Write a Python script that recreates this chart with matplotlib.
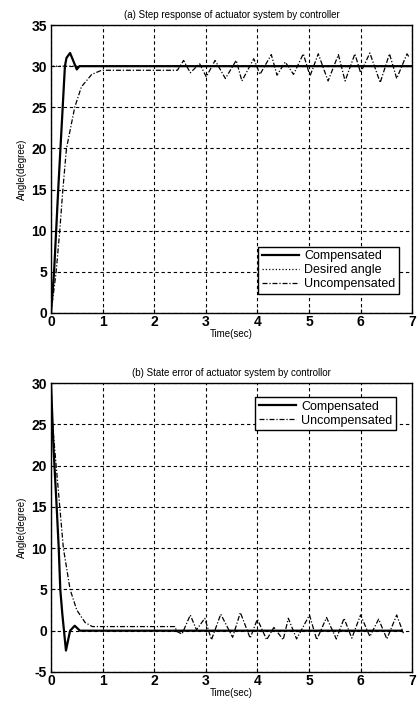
import matplotlib
matplotlib.use("Agg")
import numpy as np
from matplotlib import pyplot as plt

plt.rcParams['font.family'] = ['Liberation Sans', 'DejaVu Sans']
plt.rcParams['axes.unicode_minus'] = False

# ---- (a) step response ----
t_comp_a = [0, 0.06, 0.14, 0.27, 0.30, 0.37, 0.50, 0.55, 7.0]
y_comp_a = [0, 5, 15, 30, 31.0, 31.6, 29.6, 30, 30]

t_des = [0, 0.001, 7.0]
y_des = [0, 30, 30]

t_unc_a = [0, 0.10, 0.17, 0.23, 0.30, 0.46, 0.59, 0.79, 0.98, 2.45,
           2.57, 2.70, 2.88, 3.01, 3.18, 3.38, 3.59, 3.70, 3.93, 4.05,
           4.27, 4.38, 4.54, 4.70, 4.89, 5.02, 5.18, 5.37, 5.57, 5.70,
           5.89, 6.00, 6.18, 6.38, 6.56, 6.70, 6.90, 6.95]
y_unc_a = [0, 5, 10, 15, 20, 25, 27.5, 29, 29.5, 29.5,
           30.7, 29.2, 30.3, 28.7, 30.7, 28.5, 30.7, 28.2, 30.9, 29.0,
           31.4, 28.9, 30.5, 29.0, 31.5, 28.8, 31.5, 28.2, 31.4, 28.2,
           31.5, 29.2, 31.6, 28.0, 31.5, 28.5, 31.5, 31.0]

# ---- (b) state error ----
t_comp_b = [0, 0.05, 0.11, 0.15, 0.18, 0.22, 0.29, 0.37, 0.46, 0.56, 6.8]
y_comp_b = [30, 22, 15, 10, 5, 2, -2.4, 0, 0.6, 0, 0]

t_unc_b = [0, 0.03, 0.10, 0.17, 0.24, 0.37, 0.50, 0.66, 0.80, 2.40,
           2.44, 2.54, 2.70, 2.82, 2.98, 3.11, 3.29, 3.52, 3.67, 3.86,
           4.00, 4.18, 4.32, 4.50, 4.60, 4.76, 5.01, 5.15, 5.34, 5.53,
           5.68, 5.83, 6.00, 6.18, 6.35, 6.51, 6.70, 6.83]
y_unc_b = [30, 25, 20, 15, 10, 5, 2.5, 1, 0.5, 0.5,
           -0.1, -0.4, 1.9, 0.1, 1.5, -1.1, 2.0, -0.8, 2.2, -0.9,
           1.4, -1.1, 0.4, -1.1, 1.5, -1.0, 1.9, -1.1, 1.6, -1.0,
           1.5, -0.9, 1.9, -0.7, 1.4, -1.0, 1.9, -0.3]

dashdot = (0, (4, 1.5, 1, 1.5))

fig = plt.figure(figsize=(4.19, 7.01), dpi=100)
ax1 = fig.add_axes([0.1217, 0.5535, 0.862, 0.4108])
ax2 = fig.add_axes([0.1217, 0.0414, 0.862, 0.4122])


def style(ax, ylim, yticks):
    ax.set_xlim(0, 7)
    ax.set_ylim(*ylim)
    ax.set_xticks(range(8))
    ax.set_yticks(yticks)
    ax.grid(True, color='black', linestyle=(0, (3, 2.5)), linewidth=0.8)
    ax.tick_params(direction='in', length=3, labelsize=10, pad=3)
    ax.tick_params(axis='x', pad=1.5)
    for lab in ax.get_xticklabels() + ax.get_yticklabels():
        lab.set_fontweight('bold')
    for s in ax.spines.values():
        s.set_linewidth(1.0)
    ax.set_xlabel('Time(sec)', fontsize=7, labelpad=0)
    ax.set_ylabel('Angle(degree)', fontsize=7, labelpad=3)


ax1.plot(t_comp_a, y_comp_a, color='black', lw=1.6, label='Compensated')
ax1.plot(t_des, y_des, color='black', lw=0.9, linestyle=':', label='Desired angle')
ax1.plot(t_unc_a, y_unc_a, color='black', lw=0.9, linestyle=dashdot, label='Uncompensated')
style(ax1, (0, 35), range(0, 36, 5))
ax1.set_title('(a) Step response of actuator system by controller', fontsize=7, pad=5)
ax1.legend(loc='lower right', bbox_to_anchor=(0.964, 0.066), fontsize=9,
           handlelength=3, fancybox=False, edgecolor='black', framealpha=1,
           borderpad=0.3, labelspacing=0.15, handletextpad=0.4, borderaxespad=0)

ax2.plot(t_comp_b, y_comp_b, color='black', lw=1.6, label='Compensated')
ax2.plot(t_unc_b, y_unc_b, color='black', lw=0.9, linestyle=dashdot, label='Uncompensated')
style(ax2, (-5, 30), range(-5, 31, 5))
ax2.set_title('(b) State error of actuator system by controllor', fontsize=7, pad=5)
ax2.legend(loc='upper right', bbox_to_anchor=(0.956, 0.952), fontsize=9,
           handlelength=3, fancybox=False, edgecolor='black', framealpha=1,
           borderpad=0.3, labelspacing=0.15, handletextpad=0.4, borderaxespad=0)

fig.savefig('out.png', dpi=100)
